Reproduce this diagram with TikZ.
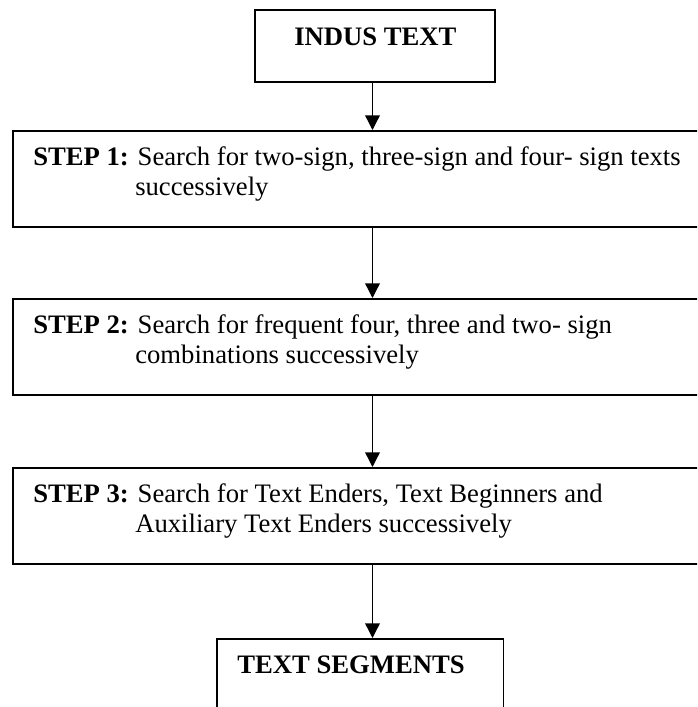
\documentclass[tikz,border=0pt]{standalone}
\usepackage{fontspec}
\setmainfont{Liberation Serif}
\usetikzlibrary{arrows.meta}

\tikzset{
  box/.style={draw, line width=1.3pt, rectangle, anchor=north west, inner sep=0pt},
  label text/.style={anchor=base west, inner sep=0pt, font=\fontsize{20}{22.5}\selectfont},
  flow/.style={line width=1pt, -{Triangle[length=11pt,width=11pt]}},
}

\begin{document}
\begin{tikzpicture}[x=0.75pt, y=-0.75pt]
  \clip (0,0) rectangle (697,707);

  % boxes (pixel grid: 1 unit = 0.75pt)
  \node[box, minimum width=180pt, minimum height=54pt]   (top) at (254,9)   {};
  \node[box, minimum width=530pt, minimum height=72pt]   (s1)  at (12,130)  {};
  \node[box, minimum width=530pt, minimum height=72pt]   (s2)  at (12,298)  {};
  \node[box, minimum width=530pt, minimum height=72pt]   (s3)  at (12,467)  {};
  \node[box, minimum width=215pt, minimum height=60pt]   (end) at (216,638) {};

  % texts
  \node[label text] (t0) at (294,45) {\textbf{INDUS TEXT}};

  \node[label text] (t1a) at (33,165) {\textbf{STEP 1:} Search for two-sign, three-sign and four- sign texts};
  \node[label text] (t1b) at (135,195) {successively};

  \node[label text] (t2a) at (33,333) {\textbf{STEP 2:} Search for frequent four, three and two- sign};
  \node[label text] (t2b) at (135,363) {combinations successively};

  \node[label text] (t3a) at (33,502) {\textbf{STEP 3:} Search for Text Enders, Text Beginners and};
  \node[label text] (t3b) at (135,532) {Auxiliary Text Enders successively};

  \node[label text] (t4) at (237,673) {\textbf{TEXT SEGMENTS}};

  % connectors
  \coordinate (ax) at (372.5,0);
  \draw[flow] (top.south -| ax) -- (s1.north -| ax);
  \draw[flow] (s1.south -| ax) -- (s2.north -| ax);
  \draw[flow] (s2.south -| ax) -- (s3.north -| ax);
  \draw[flow] (s3.south -| ax) -- (end.north -| ax);
\end{tikzpicture}
\end{document}
